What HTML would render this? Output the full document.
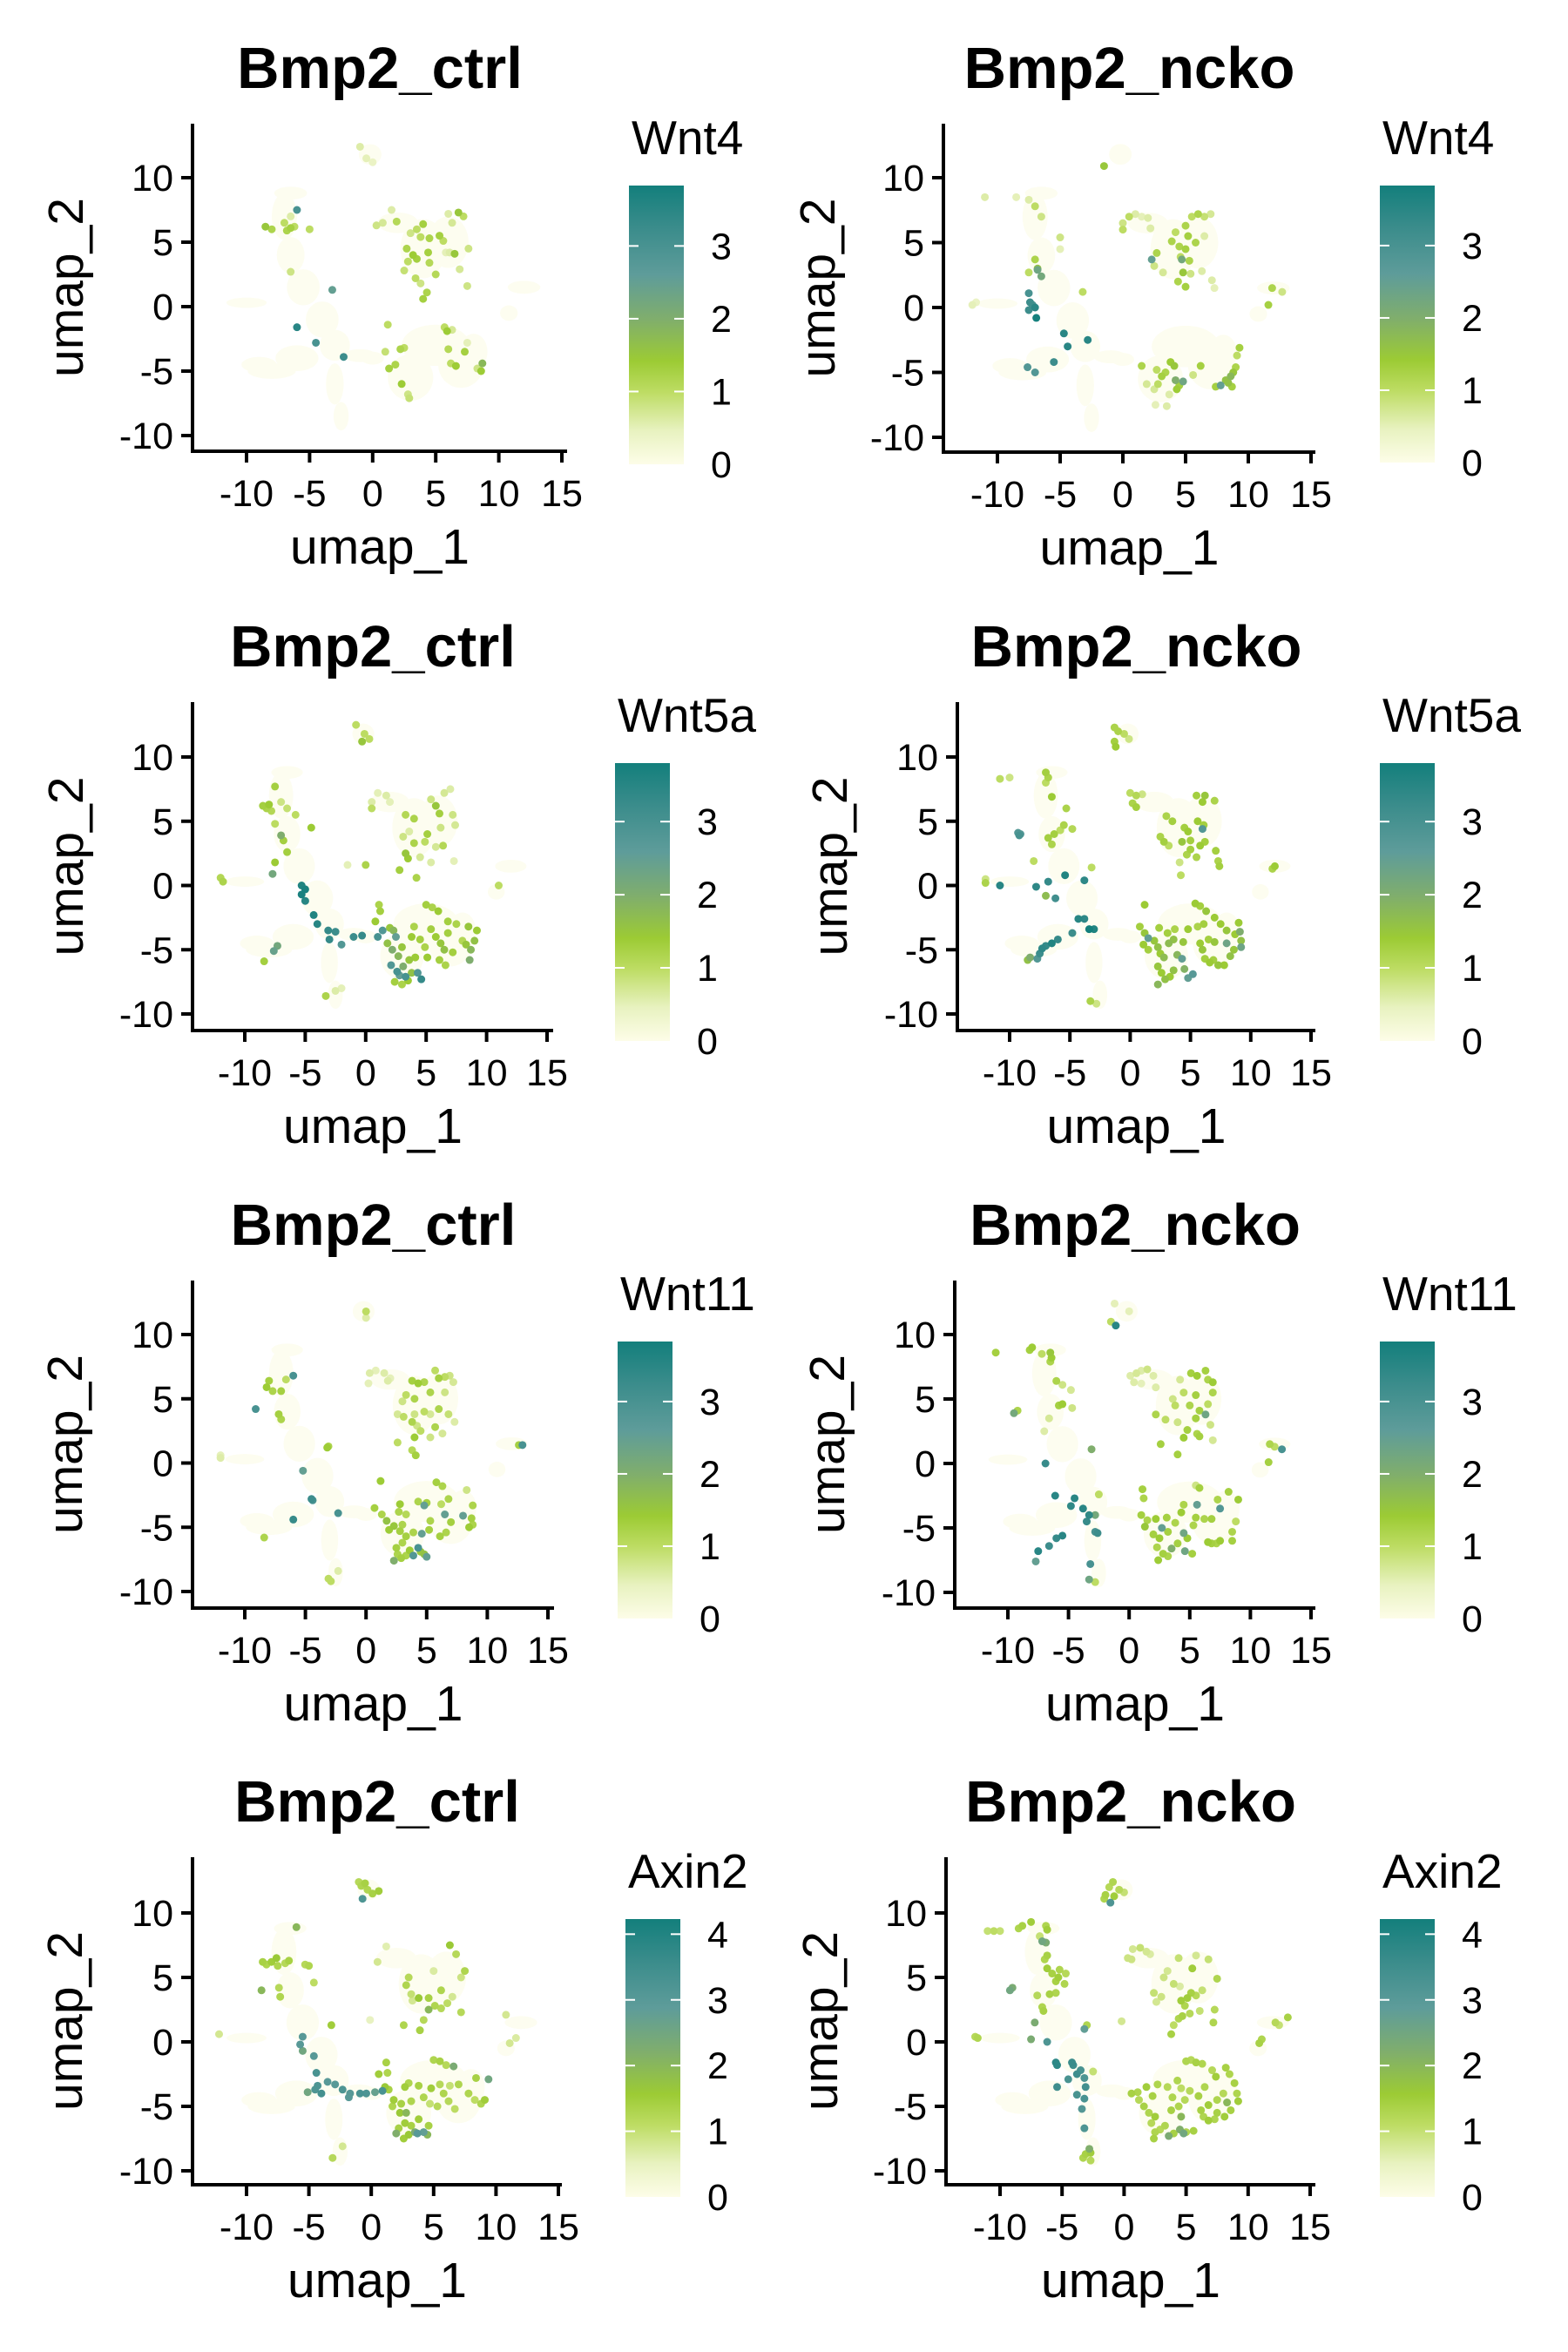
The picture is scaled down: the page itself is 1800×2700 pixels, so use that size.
<!DOCTYPE html>
<html><head><meta charset="utf-8"><title>UMAP feature plots</title>
<style>
html,body{margin:0;padding:0;background:#fff;}
svg{display:block;font-family:"Liberation Sans",Arial,sans-serif;}
</style></head>
<body>
<svg id="fig" xmlns="http://www.w3.org/2000/svg" width="1800" height="2700" viewBox="0 0 1800 2700">
<rect x="0" y="0" width="1800" height="2700" fill="#ffffff"/>
</svg>
<script>
// ---------- data ----------
const xTicks = [-10, -5, 0, 5, 10, 15];
const yTicks = [-10, -5, 0, 5, 10];
const wntLegendTicks = [0, 1, 2, 3];
const axinLegendTicks = [0, 1, 2, 3, 4];
const panelTitles = ["Bmp2_ctrl","Bmp2_ncko","Bmp2_ctrl","Bmp2_ncko","Bmp2_ctrl","Bmp2_ncko","Bmp2_ctrl","Bmp2_ncko"];
const geneNames = ["Wnt4","Wnt4","Wnt5a","Wnt5a","Wnt11","Wnt11","Axin2","Axin2"];
const geneMax = [3.83,3.83,3.8,3.8,3.83,3.83,4.23,4.23];

// background (non-expressing) cell regions: centre x, centre y, radius x, radius y (umap units)
const bgCx = [-7,-6.5,-5.5,-4,-3,-8,-10,-6,-3,-2.5,-1,0,12,10.8,2,4,6,5,3,7,8,-0.2,-6.5,-9];
const bgCy = [7,4,1.5,-1,-3,-5,0.3,-4,-6,-8.5,-3.8,-4,1.5,-0.5,6.5,4.5,5,-3,-5.5,-4.5,-3.5,11.8,8.8,-4.5];
const bgRx = [1.0,1.1,1.3,1.3,1.2,1.9,1.6,1.7,0.7,0.6,1.3,0.9,1.3,0.7,1.6,1.8,1.6,2.7,1.8,1.8,1.1,0.9,1.3,1.4];
const bgRy = [1.8,1.4,1.4,1.4,1.2,0.6,0.4,1.0,1.6,1.1,0.5,0.5,0.5,0.6,0.8,2.3,2.0,1.6,1.8,1.8,1.4,0.8,0.5,0.6];

const wnt4Ctrl = [[-8.5,6.2,1.5],[-8,6,1.2],[-7,6.5,1],[-6.8,5.9,1.2],[-6.5,6.1,1.3],[-6.2,6.2,1],[-5,6,1],[-6.5,7,0.6],[-6,7.5,3],[-6.5,2.7,0.8],[-3.2,1.3,2.5],[-6,-1.6,3.5],[-4.5,-2.8,3],[-2.3,-3.9,3.2],[-1,12.4,0.6],[-0.5,11.5,0.5],[0,11.2,0.4],
[0.3,6.3,0.8],[0.8,6.5,0.7],[1.5,7.5,0.6],[1.9,6.6,1.1],[3.5,6,1],[4,6.4,1.3],[3.8,5.4,1],[4.5,5.3,1.2],[5.3,5.5,1.3],[5.6,5.1,1],[6.3,6.5,0.7],[6.8,7.3,1.5],[7.2,7,1],[6,7.2,0.6],[2.7,4.5,1.2],[3.2,4,1.4],[2.8,3.5,1],[3.5,3.7,1.3],[4.4,4.2,1.3],[6.5,4.1,1.5],[6.1,4.2,0.6],[7.6,4.5,0.8],[4.5,3.4,1.1],[2.5,2.8,0.9],[3.4,2.2,1],[3.8,1.8,0.8],[5,2.5,1.1],[6.9,2.9,0.7],[7.5,1.6,0.8],[4.3,1.1,1.2],[4,0.6,1.3],[5.8,4.2,0.5],[3,5.7,0.8],
[1.2,-1.4,1],[1,-3.5,0.9],[2.2,-3.3,1.2],[2.5,-3.2,1],[1.3,-4.8,1.3],[1.8,-4.5,1.2],[2.3,-6,1.4],[2.8,-6.8,0.8],[2.9,-7.1,0.9],[5.7,-1.6,1],[5.9,-1.9,1.4],[6.3,-1.8,0.7],[6,-3.3,1.1],[6.2,-4.4,1],[6.6,-4.6,1.4],[7.3,-3.5,1.3],[7.5,-2.8,0.5],[8.7,-4.4,1.8],[8.6,-5,1.4],[8.3,-4.8,0.8]];

const wnt4Ncko = [[-11,8.5,0.6],[-8.5,8.5,0.5],[-7.5,8.3,0.6],[-7,7.8,1],[-6.5,7,0.8],[-5,5.4,0.8],[-5,4.5,0.5],[-7.5,2.7,1],[-7,3.7,1.2],[-6.8,3,1.6],[-6.5,2.4,2.2],[-6.8,2.9,2.3],[-7.5,1.1,3],[-7.4,0.4,3.2],[-7.2,0.2,3],[-7,0,3.5],[-7.5,-0.2,3.2],[-6.9,-0.8,3.8],[-4.7,-2,3.5],[-2.8,-2.5,3.5],[-4.4,-3,3.5],[-5.5,-4.2,3.2],[-7.6,-4.6,2.8],[-7,-5,2.8],[-3.2,1.2,1],[-12,0.2,0.5],[-11.7,0.4,0.4],[-1.5,10.9,1.5],
[0,6.5,0.8],[0.5,7,1],[1,7.2,0.6],[1.5,7,0.5],[2,6.9,0.6],[0,6,1],[2.2,6.1,0.6],[5.5,7,1],[6,7.2,1.2],[6.5,7,0.9],[7,7.2,0.7],[5,6.3,1.2],[4.2,5.8,1],[3.9,5.1,1.2],[5.2,5.5,1.3],[5.8,5,1.2],[6.5,5.5,0.6],[4.5,4.7,1.2],[5,4.5,1.3],[4.6,3.9,1],[5.3,3.6,1.2],[2.3,3.7,2.5],[2.7,4.2,1.2],[4.7,3.7,2.2],[2.5,3.2,0.8],[3.2,2.7,0.7],[4.8,2.7,1.5],[5.4,2.6,0.8],[6.3,2.8,0.6],[4.4,2,1.2],[5,1.6,1.3],[7.1,2.1,0.6],[7.3,1.5,0.5],[11.9,1.5,1.2],[12.7,1.2,0.8],[11.6,0.2,1.3],
[1.5,-4.5,1.2],[2.7,-4.8,1],[3.8,-4.2,1.4],[4.1,-4.5,1.5],[3.4,-5,1.2],[3.1,-5.3,1.3],[4.2,-5.6,2],[4.8,-5.7,2.3],[4.5,-6,1.3],[4.3,-6.3,1.4],[3.7,-6.7,0.6],[6.2,-4.5,1.3],[7.4,-6.1,1.3],[7.8,-6,2.5],[8.2,-5.6,1.6],[8.6,-5.3,1.8],[8.8,-5,1.5],[9,-4.6,1.2],[9.3,-3.1,1.3],[9.1,-3.7,1],[8.7,-6.1,1.3],[8.4,-5.8,1.6],[2.6,-7.5,0.5],[3.5,-7.6,0.6],[2.8,-5.9,1],[1.9,-5.9,0.7],[5.6,-5.2,0.8],[2.5,-6.3,0.7]];

const wnt5aCtrl = [[-8.5,6.2,1.3],[-8.2,6,1.2],[-8,6.3,1.4],[-7.8,5.8,1.1],[-7.5,7.7,1.3],[-7,6.5,0.8],[-6.5,6,0.9],[-5.8,5.5,1],[-4.5,4.5,1.4],[-7.5,4.8,1],[-7,3.9,2],[-6.8,3.5,1.3],[-6.5,2.6,1.3],[-7.5,1.8,1.4],[-7.7,0.9,2.2],[-12,0.6,1.1],[-11.8,0.3,1.2],[-5.3,0,3.6],[-5,-0.3,3.7],[-5.3,-0.7,3.7],[-5,-1.2,3.5],[-4.3,-2.3,3.6],[-4,-3,3.5],[-3.1,-3.5,3.3],[-2.5,-3.6,3.2],[-3,-4.2,3.3],[-2,-4.6,2.8],[-1,-4,3.2],[-0.3,-3.9,3.3],[-7.3,-4.7,2.2],[-7.6,-5.1,2.4],[-8.4,-5.9,1.3],[-3.3,-8.6,1.2],[-2.5,-8.2,0.6],[-2,-8,0.5],[-0.8,12.5,1],[-0.3,11.2,1.5],[0.3,11.4,1],[-0.1,11.8,1],[-1.5,1.6,0.5],[0,1.6,1.2],[11,0,1],
[0.5,6.5,0.6],[1,7.2,0.5],[1.7,7,0.6],[2,6.5,0.5],[0.5,6,1],[3.3,5.5,1.1],[4,5.2,1.2],[5.4,6.7,0.8],[5.8,6.2,1.5],[6.1,5.6,1.3],[6.5,7.2,0.7],[7,7.5,0.6],[7.2,5.5,0.8],[3.1,3.8,0.8],[3.6,4.2,0.6],[4,3.3,1.2],[4.9,3.4,1],[5.1,4,1.3],[6.2,4.5,0.8],[6.4,3.1,1.1],[5.8,3,0.7],[3.3,2.5,1.5],[3.5,2.1,1.4],[2.8,1.2,1.3],[4.2,0.6,1.2],[4.5,2.2,0.7],[5.4,1.8,0.6],[7.4,4.7,0.7],[7.3,1.9,0.5],
[1.1,-1.5,1.2],[1.2,-2,1.3],[0.8,-2.8,1.4],[1.4,-3.5,2.8],[1,-4,3],[2,-3.3,1.5],[2.3,-3.5,1.8],[2.5,-4,2.5],[1.8,-4.5,1.6],[2.2,-5,2],[2.7,-5.5,1.8],[3,-4.8,1.5],[2.1,-6.2,2.8],[2.6,-6.7,3],[2.8,-7,2.5],[3.3,-7.1,3],[3.8,-6.8,1.6],[4.3,-6.8,2.8],[4.6,-7.3,3.3],[3.1,-6.3,2],[3.6,-5.8,1.5],[4.1,-5.6,1.4],[2.4,-7.5,1.3],[3,-7.7,1.2],[3.5,-7.4,1.4],[5,-1.5,1.3],[5.5,-1.7,1.2],[6,-2,1.4],[6.8,-2.8,1.3],[7.5,-3,1.2],[8.5,-3.2,1.5],[9.2,-3.5,1.4],[9,-4.3,1.6],[8.3,-4.6,1.5],[8.7,-5,1.8],[5.4,-3.4,1.3],[5.8,-4,1.4],[6.2,-4.5,1.5],[6.5,-5,1.6],[6.1,-5.8,1.3],[6.6,-6.2,1.2],[5.1,-5.6,1.4],[4.9,-4.8,1.2],[4.5,-4.2,1.3],[3.8,-4,1.4],[4,-3.2,1.2],[6.8,-3.7,1.3],[8,-4.3,1.1],[7.2,-5.2,1.3],[8.6,-5.8,2]];

const wnt5aNcko = [[-10.8,8.3,1],[-10,8.4,0.8],[-7,8.8,1.3],[-6.8,8.4,1.2],[-7,8,1],[-6.5,6.9,1.4],[-5.3,6,1.2],[-5.5,4.7,1.2],[-5.8,4.3,1],[-4.8,4.4,1.1],[-6.3,4,1.3],[-6.8,3.7,1.3],[-6.5,3.2,1.2],[-8,1.9,1],[-3.2,1.4,1],[-12,0.5,0.8],[-12,0.2,1.2],[-9.3,4.1,2.8],[-9.1,4,2.8],[-9.2,3.9,3],[-10.8,0,3.5],[-7.8,-0.1,3.4],[-6.8,0.3,3.3],[-5.4,0.8,3.6],[-3.8,0.4,3.4],[-6.2,-1,3.1],[-7,-0.8,1.7],[-4.3,-2.6,3.5],[-3.8,-2.6,3.4],[-3.4,-3.4,3.8],[-3,-3.4,3.6],[-4.8,-3.7,3.2],[-6,-4.2,3.3],[-6.5,-4.5,3.6],[-7,-4.7,3.3],[-7.3,-4.9,3.4],[-7.5,-5.3,3.2],[-7.7,-5.7,2.8],[-8.3,-5.6,2],[-8.5,-5.8,1.6],[-3.3,-9,1.2],[-2.8,-9.2,0.8],[-1.3,12.3,1.2],[-1,12,1.2],[-1.3,11.2,1.3],[-1.2,10.8,1.4],[-0.5,11.8,1],[-0.1,11.4,0.8],
[0,7.2,1],[0.5,7,1.1],[1,7.1,0.8],[0.2,6.4,1.2],[0.5,6.1,1.3],[3,5.4,1.2],[3.5,5,1.3],[5.5,7,1.3],[6,6.5,1.4],[6.2,7,1.5],[7,6.6,1.2],[6.1,4.7,1.3],[5.6,5,1.4],[4.5,4.5,1.3],[4.8,4.2,1.4],[6,4.4,2.8],[2.5,3.8,1.2],[2.8,3.4,1.3],[3.2,3.1,1],[4.3,3.4,1.5],[5,3.5,1.3],[5.8,3.1,1.4],[6.2,3.4,1.3],[4.7,2.4,1.2],[5,2.8,1.3],[5.5,2.2,1.2],[4.1,1.8,0.8],[7.1,2.7,1.3],[7.3,1.9,1.2],[7.4,1.5,1.3],[4.2,0.8,1],[12,1.5,1.4],[11.8,1.3,1.2],
[1.2,-1.5,1.4],[0.8,-3.2,1.3],[1.2,-3.7,1.5],[1.5,-4.1,2.5],[1.1,-4.6,1.4],[1.5,-5,1.3],[2,-4.3,1.5],[2.3,-4.8,1.6],[2.5,-5.3,1.4],[2.8,-5.6,1.7],[2.3,-6.3,1.5],[2.6,-6.8,1.4],[2.9,-7.3,1.6],[2.3,-7.7,1.8],[3.3,-7.1,1.4],[3.6,-6.6,1.6],[3.9,-5.4,1.8],[4.3,-5.7,2.5],[4.5,-6.5,1.9],[4.8,-7.2,2.5],[5.2,-6.9,2.7],[4.4,-4.4,1.5],[3.6,-4.2,1.6],[3.1,-3.7,1.3],[3.2,-4.5,1.7],[5.4,-1.4,1.4],[5.8,-1.6,1.3],[6.3,-2,1.5],[7,-2.5,1.4],[7.5,-3,1.4],[8,-3.5,1.5],[8.7,-3.8,1.4],[9,-2.9,1.4],[9.1,-3.6,2],[9.2,-4.3,1.6],[9.2,-4.8,2.3],[8.6,-5,1.5],[8.3,-5.5,1.6],[8,-4.5,2.3],[7.8,-6.2,1.4],[7.3,-6.2,1.5],[6.9,-5.8,1.3],[6.6,-6,1.4],[6.2,-5.7,1.3],[6,-5,1.5],[5.8,-4.5,1.4],[6.5,-4.2,1.3],[7,-4.4,1.5],[5.6,-3.2,1.2],[6.1,-3,1.3],[4.8,-3.4,1.4],[3.7,-3.4,1.2],[2.4,-3.3,1.3]];

const wnt11Ctrl = [[-8,6.4,1.3],[-8.2,5.9,1.4],[-7.7,5.6,1.2],[-7,5.6,1.3],[-6.6,6.5,1],[-6,6.8,3],[-9.1,4.2,3],[-7.2,3.8,1.3],[-7,3.4,1.2],[-12,0.6,0.5],[-12,0.4,0.6],[-3.2,1.2,1.4],[-3.1,1.3,1.2],[-5.2,-0.6,2.5],[-4.5,-2.8,3.2],[-4.4,-2.9,3],[-6,-4.4,3.3],[-2.3,-3.9,3],[-8.4,-5.8,1.2],[-2.3,-8.4,0.6],[-3.1,-9,1],[-2.9,-9.2,1],[0,11.8,1],[0,11.3,0.6],
[0.3,7,0.6],[0.8,7.2,0.5],[1.5,7,0.6],[2,6.6,0.5],[1.8,6.4,0.6],[0.2,6.2,0.5],[3.8,6.4,1.3],[4.3,6.2,1.4],[4.8,6.3,1.2],[5.7,7.2,1],[6,6.6,1.3],[6.5,6.7,1],[6.9,6.8,0.8],[7.2,6.3,0.7],[6.5,5.5,0.8],[5.3,5.5,1.2],[4,5,1.2],[3,4.8,0.8],[3.3,5.3,1],[2.6,3.8,0.7],[3.1,3.6,1],[4,3.8,0.8],[4.8,4,1],[5.3,3.8,0.7],[6,4.2,1.2],[6.8,3.8,0.9],[7.3,3.2,0.6],[3.8,3.2,1.2],[4.2,2.9,0.8],[4.5,2.5,1],[5.7,2.8,1.2],[6.3,2.3,0.7],[5.3,2,0.8],[4,2,1.4],[2.6,1.6,1],[3.8,1,1.1],[4.1,0.6,1.3],[12.6,1.4,1.3],[12.9,1.4,3],
[1.2,-1.4,1.4],[0.7,-3.5,1.3],[1.3,-4,1.2],[1.7,-4.5,1.6],[1.9,-5.2,1.4],[2.3,-4.9,1.5],[2.8,-5.3,1.3],[3,-4.8,1.2],[2.8,-3.2,1.4],[2.7,-3.8,1.2],[3.3,-4,1.1],[4.3,-3,1.2],[4.8,-3.3,2.5],[5,-3.1,1.3],[6.2,-3.2,1],[6.5,-4,2.5],[5.3,-4.5,1.2],[5.2,-5.2,1.3],[4.6,-5.5,2.5],[3.9,-5.4,1.2],[3.3,-5.7,1.3],[3,-6.2,1.2],[2.5,-6.6,1.3],[2.6,-7.1,1.2],[2.3,-7.6,2],[2.9,-7.4,1.3],[3.3,-7.2,1.2],[3.6,-6.8,1.4],[4.3,-6.6,3],[4.5,-6.9,1.5],[4.8,-7.1,1.6],[5,-7.3,2.5],[3.9,-7.2,2.8],[5.8,-1.5,1.3],[6.3,-1.8,1.2],[6.8,-2.8,1.2],[8.3,-2.1,0.8],[8.8,-3.3,1.2],[8,-4.1,2.5],[8.7,-4.3,1.3],[8.5,-5,1.4],[8.8,-4.8,1.2],[7,-4.6,1.3],[6.6,-5.4,1.2],[6.1,-5.7,1.3]];

const wnt11Ncko = [[-11,8.6,1.3],[-8,9,1.4],[-8.2,8.8,1.3],[-7.2,8.5,1],[-6.5,8.6,1.5],[-6.4,8.2,1.4],[-6.5,7.9,1.2],[-6,6.4,1.2],[-5.5,6.1,0.8],[-4.8,5.7,0.7],[-5.8,4.5,1.3],[-5.5,4.6,1.4],[-4.7,4.3,0.8],[-9.2,4.1,1.2],[-9.5,3.9,2.2],[-6.6,3.5,0.7],[-7,2.5,0.6],[-3.1,1.1,2],[-6.9,0,3.3],[-6.1,-2.5,3.5],[-4.8,-3.3,3.4],[-4.5,-2.7,3.5],[-3.8,-3.5,3.5],[-3.3,-4,3.4],[-3.5,-4.5,3.3],[-2.8,-4,2.2],[-2.5,-2.4,1],[-2.6,-5.4,3.2],[-2.8,-5.3,3],[-5.5,-5.6,3.5],[-6,-5.8,3.3],[-6.6,-6.4,3.2],[-7.5,-6.8,3.5],[-7.7,-7.6,2.5],[-3.2,-7.8,3],[-3.3,-9,2.3],[-2.8,-9.2,1],[-1.5,11,1],[-1.1,10.7,3.5],[-1.2,12.4,0.5],[0,11.8,0.5],
[0.1,6.8,0.6],[0.6,7,0.7],[1,7.2,0.6],[1.5,7.3,0.8],[2,6.8,0.6],[0.4,6.3,0.6],[1,6.2,0.5],[2.2,5.9,0.6],[4.2,6.5,0.7],[5.1,7,1.3],[5.6,6.8,1.4],[6.3,7.2,1.3],[6.5,6.5,1.2],[6.9,6.3,1.4],[6.9,5.5,1.2],[5.5,5.3,1.3],[4.5,5.5,1],[3.6,5,0.8],[3.8,4.5,1],[5,4.5,1.2],[5.8,4.1,1.3],[6.5,4.6,1],[6.3,3.8,2.3],[2.2,3.8,1.2],[3,3.4,1],[4,3.2,0.8],[5.5,3.5,1.3],[6.7,3,0.8],[4.8,2.6,1.3],[5.6,2.3,1.2],[4.5,2,1.4],[5.8,2.1,1.3],[6.9,1.8,0.7],[2.6,1.5,1.3],[4,0.7,1.3],[11.6,1.5,1.2],[12,1.3,1],[12.6,1.1,3],[11.5,0.1,1.3],
[1.1,-2,1.3],[1.2,-2.7,1.2],[1,-4,1.3],[1.5,-4.4,1.2],[2.2,-4.3,1.4],[1.3,-4.9,1.5],[2,-5.5,1.3],[2.5,-5.8,1.4],[2.7,-5,2.5],[3.2,-5.3,1.3],[2.3,-6.5,1.2],[2.8,-7,1.3],[2.4,-7.5,1.4],[3.2,-7.2,1.2],[3.5,-6.6,2],[4,-6.2,1.3],[4.5,-5.4,2.3],[4.8,-5.8,1.4],[4.6,-6.8,2.3],[5.2,-7,1.3],[3.8,-4.6,1.2],[3.1,-4.2,1.3],[4.3,-3.8,1.4],[4.5,-3.2,1.2],[5.5,-1.7,0.8],[5.8,-1.9,1.3],[5.6,-3.2,2.5],[6.2,-4.3,1.2],[6.8,-4.3,1.3],[7.3,-2.8,1.2],[7.5,-3.5,2.8],[8.2,-2.2,1.3],[9,-2.8,1.4],[8.8,-4.5,1],[8.5,-5.3,1.2],[8.5,-6,1.3],[7.5,-6,1.4],[7.2,-6.2,1.2],[6.8,-6.2,1.3],[6.5,-6.1,1.4],[5.3,-4.8,1.2],[5.5,-4.2,1.3]];

const axin2Ctrl = [[-1,12.4,1.2],[-0.8,12.1,1.3],[-0.5,12.3,1.4],[-0.3,11.8,1.3],[0.1,11.5,1.4],[0.6,11.7,1.5],[-0.7,11.1,3.2],[-6,8.9,2],[-8.7,6.2,1.4],[-8.4,6,1.3],[-8,6.2,1.5],[-7.6,6.5,1.6],[-7.5,5.9,1.3],[-6.9,6.1,1.2],[-6.6,6.3,1.4],[-5.3,6,1.2],[-5,5.9,1.3],[-4.6,4.6,1.1],[-8.8,4,2],[-7.4,4.2,1.2],[-7.3,3.5,1.3],[-3.2,1.3,1.5],[-12.2,0.6,0.8],[-5.5,0.4,3],[-5.7,-0.2,3],[-5.5,-0.7,2.5],[-4.6,-1.1,3],[-4.4,-2.4,3.3],[-4.3,-3.4,3.2],[-4.5,-3.7,3.2],[-5.1,-3.9,2.5],[-4,-4,3.4],[-3.5,-3.1,3],[-2.9,-3.3,3],[-2.3,-3.7,3.2],[-1.8,-4.3,3],[-1.7,-4,3],[-0.9,-4,3.3],[-0.4,-4,3.2],[0.3,-3.9,2.7],[0.9,-3.8,3.3],[-3.1,-9,1.2],[-2.3,-8.1,0.8],[-0.1,1.7,0.5],[10.8,2.1,0.8],[11.1,-0.1,0.8],[11.6,0.3,0.7],
[1.2,7.4,0.6],[0.5,6.2,0.8],[6.3,7.5,1.6],[6.8,6.8,1.2],[7.5,5.5,1.3],[7.2,5,0.9],[5,5.5,0.7],[3,5,1.2],[2.8,4.4,1.3],[3.2,3.7,1],[3.3,3.2,0.8],[3.8,3.4,1.6],[4.6,3.4,1.4],[4.6,2.5,2],[5.1,2.8,1.3],[5.6,2.6,1.2],[6.1,3,1.1],[7.2,2.3,1.2],[4.2,1.7,1.2],[2.6,1.3,1.3],[3.9,0.9,1.4],[5.6,4,1.3],[6.5,3.5,0.8],
[1.2,-1.6,1.4],[1.3,-2.4,1.3],[0.6,-2.5,1.5],[1.1,-3.5,1.6],[1.4,-3.7,1.4],[1.8,-4.5,1.5],[2.4,-4.8,1.4],[1.7,-5,1.3],[2.3,-5.5,1.6],[2.8,-5.5,2],[2.7,-6.3,1.5],[2.2,-6.7,1.4],[2,-7.1,2.2],[2.6,-7.5,1.5],[3,-7.2,1.6],[3.5,-7,2.3],[3.7,-7.1,3],[4.2,-7,2.8],[4.5,-7.2,2],[3.2,-6.5,1.4],[3.8,-6,1.5],[4.6,-6.5,1.4],[3.2,-4.6,1.3],[2.7,-3.5,1.5],[3,-3.2,1.3],[3.8,-3.4,1.4],[4.8,-3.6,1.5],[5.5,-3.3,1.2],[5.8,-4,1.3],[5.3,-5,1.2],[4.7,-4.8,1],[4.2,-4.3,1.3],[5,-1.4,1.3],[5.5,-1.5,1.4],[6,-1.8,1.2],[6.6,-1.9,2.3],[7.8,-4,1.3],[8.4,-2.8,1.4],[9.4,-2.9,2.5],[9.1,-4.5,1.5],[8.8,-4.8,1.3],[8.3,-4.5,1.1],[7,-3.3,1.3],[6.3,-3.4,1],[6.2,-4.6,1.2],[6.7,-5.2,1.1]];

const axin2Ncko = [[-0.9,12.4,1.3],[-1.2,12,1.2],[-1.5,11.4,1.4],[-1.6,11.1,1.3],[-0.8,11.3,1.5],[-0.4,11.8,1.2],[0,11.6,1],[-1.1,10.8,3.2],[-11,8.6,1],[-10.5,8.6,1.1],[-10,8.6,1],[-8.5,8.8,1.3],[-8.2,9,1.4],[-7.5,9.3,1.5],[-6.3,9,1.3],[-6.2,8.7,1.5],[-6.8,8.2,1],[-6.6,7.8,2.5],[-6.3,7.7,2.3],[-6.2,6.7,1.4],[-6.4,6.4,1.3],[-6.2,5.7,1.5],[-5.8,5.3,1.4],[-5.2,5.6,1.3],[-5.3,5,1.5],[-5.5,4.7,1.4],[-4.8,4.5,1.3],[-4.7,5.3,1.2],[-5.5,3.8,1.3],[-6,3.7,1.4],[-7,3.6,1.2],[-6.6,2.7,1.3],[-6.5,2.4,1.4],[-9.2,4,2.5],[-9,4.2,2.3],[-12,0.4,1.2],[-11.8,0.3,1.3],[-7.2,1.5,2.3],[-7.5,0.2,2.3],[-6.2,0,3.2],[-3.2,1,2.8],[-3,1.3,1.3],[-5.5,-1.6,3.8],[-5.4,-1.8,3.8],[-4.2,-1.6,3.6],[-4.1,-1.8,3.5],[-3.5,-2.2,3.3],[-2.5,-2.3,1],[-4.5,-2.9,3.3],[-3.8,-2.5,3.5],[-3.2,-2.8,3.2],[-3.1,-3.5,3.4],[-3.8,-4.1,3.3],[-5.4,-3.5,3.5],[-3.2,-4.4,3.3],[-3.4,-5.2,3.1],[-3.2,-6.7,3.2],[-2.8,-8.3,2.2],[-3.1,-8.7,1.4],[-3.3,-9,1.3],[-2.7,-9.2,1.2],[-2.7,-8.6,1.5],[-0.2,1.6,0.8],[10.9,-0.1,1.4],[11.1,0.2,1.3],[12.2,1.5,1.2],[12.5,1.3,1],[13.2,1.9,1.4],
[0.3,6.5,0.9],[0.7,7.2,0.8],[1.3,7.3,1],[1.8,7,0.8],[2.1,6.8,0.7],[0.6,6.4,0.9],[4.4,6.5,1],[5.8,6.7,0.8],[6.8,6.4,1],[7.5,4.9,1.3],[5.5,5.7,1.5],[3.5,5.5,0.8],[3.2,5,0.9],[4,4.5,1],[4.5,4.3,0.7],[5.4,3.8,1.4],[5.1,3.4,1.5],[5.8,3.6,1.2],[6.3,4,1],[2.4,3.8,1],[3,3.5,0.9],[2.6,3.1,0.8],[4.9,2.8,1.3],[4.6,3.2,1.5],[5.3,2.2,1.2],[4.7,2,1.4],[6.1,2.4,1],[7.3,2.5,1.2],[7.2,1.5,1.3],[4,1.3,1.1],[3.8,0.6,1.4],[4.4,1.8,1.3],
[5,-1.5,1.3],[5.4,-1.4,1.2],[5.8,-1.6,1.4],[6.3,-1.7,1.3],[7.1,-2.2,1.2],[7.4,-2.7,1.5],[8.2,-2,1.4],[8.5,-2.5,1.3],[8.9,-3.2,1.4],[9.1,-4,1.3],[9.2,-4.6,1.5],[8.6,-5.3,1.4],[8.1,-5.8,1.5],[7.5,-5.5,1.4],[7.3,-6,1.3],[6.8,-6.1,1.5],[6.4,-5.8,1.3],[6.2,-5.3,1.4],[6.8,-4.9,1.5],[7.5,-4.5,1.3],[8,-4,1.2],[8.3,-4.7,2],[6,-4.2,1.4],[6.5,-3.5,1.3],[5.3,-3.8,1.2],[4.6,-3.6,1.1],[4.3,-3,1.3],[3.5,-3.5,1.2],[2.7,-3.3,1.3],[2.3,-4.2,1.4],[1.8,-3.5,1.5],[1.1,-3.9,1.3],[0.6,-4,1.4],[1.2,-4.5,1.2],[1.6,-5,1.4],[2,-5.5,1.3],[2.5,-5.8,1.5],[2.2,-6.3,1.2],[2.5,-7,1.3],[2.4,-7.5,1.4],[2.9,-6.8,1.2],[3.3,-6.5,1.3],[3.6,-7.3,2.3],[4,-7.1,1.4],[4.5,-6.8,2.2],[4.8,-7.1,2.5],[5,-7,1.3],[5.6,-6.9,1.4],[4.6,-5.8,2],[4.4,-5,1.3],[3.8,-5.3,1.4],[4.9,-4.5,1.2],[3.9,-4.3,1.3]];

const panelData = [wnt4Ctrl, wnt4Ncko, wnt5aCtrl, wnt5aNcko, wnt11Ctrl, wnt11Ncko, axin2Ctrl, axin2Ncko];

// ---------- layout (pixel geometry, not data) ----------
const layout = [
 {ax:221, xm10:283, x15:645, xend:651, y10:204, ym10:500, top:142, xa:518, lx:722, lt:213, lb:533, u2:95},
 {ax:1083, xm10:1145, x15:1505, xend:1510, y10:204, ym10:502, top:142, xa:519, lx:1584, lt:213, lb:531, u2:958},
 {ax:221, xm10:281, x15:628, xend:635, y10:869, ym10:1164, top:806, xa:1183, lx:706, lt:876, lb:1195, u2:95},
 {ax:1099, xm10:1159, x15:1505, xend:1510, y10:869, ym10:1164, top:806, xa:1183, lx:1584, lt:876, lb:1195, u2:972},
 {ax:221, xm10:281, x15:629, xend:636, y10:1532, ym10:1827, top:1470, xa:1846, lx:709, lt:1540, lb:1858, u2:94},
 {ax:1096, xm10:1157, x15:1505, xend:1510, y10:1532, ym10:1828, top:1470, xa:1846, lx:1584, lt:1540, lb:1858, u2:969},
 {ax:221, xm10:283, x15:641, xend:645, y10:2196, ym10:2492, top:2132, xa:2508, lx:718, lt:2203, lb:2522, u2:94},
 {ax:1086, xm10:1148, x15:1504, xend:1510, y10:2196, ym10:2492, top:2132, xa:2508, lx:1584, lt:2203, lb:2522, u2:961}
];
const BAR_W = 63;

const NS = "http://www.w3.org/2000/svg";
const svg = document.getElementById("fig");
function mk(tag, attrs, parent) {
  const e = document.createElementNS(NS, tag);
  for (const k in attrs) e.setAttribute(k, attrs[k]);
  (parent || svg).appendChild(e);
  return e;
}

// colour scale (fraction of max)
const stopF = [0, 0.12, 0.26, 0.37, 0.52, 0.68, 0.85, 1];
const stopC = ["#fdfde8","#e8f2c0","#bddc63","#9ccb34","#80ae6c","#5e9c9a","#3a8c8b","#137f7c"];
function hex(c){return [parseInt(c.slice(1,3),16),parseInt(c.slice(3,5),16),parseInt(c.slice(5,7),16)];}
function colorFor(f){
  f = Math.max(0, Math.min(1, f));
  for (let i = 1; i < stopF.length; i++) {
    if (f <= stopF[i]) {
      const t = (f - stopF[i-1]) / (stopF[i] - stopF[i-1]);
      const a = hex(stopC[i-1]), b = hex(stopC[i]);
      return "rgb(" + a.map((v,j)=>Math.round(v + (b[j]-v)*t)).join(",") + ")";
    }
  }
  return stopC[stopC.length-1];
}

const defs = mk("defs", {});
const grad = mk("linearGradient", {id:"cbar", x1:"0", y1:"1", x2:"0", y2:"0"}, defs);
stopF.forEach((f,i)=>{ mk("stop", {offset:f, "stop-color":stopC[i]}, grad); });

layout.forEach((L, p) => {
  const g = mk("g", {});
  
  
  const sx = v => L.xm10 + (v + 10) * (L.x15 - L.xm10) / 25;
  const sy = v => L.ym10 + (v + 10) * (L.y10 - L.ym10) / 20;
  const midX = (L.ax + L.xend) / 2;

  const t = mk("text", {x:midX, y:L.top - 41, "text-anchor":"middle", "font-size":67, "font-weight":"bold", fill:"#000"}, g);
  t.textContent = panelTitles[p];
  
  

  const bg = mk("g", {}, g);
  
  
  bgCx.forEach((cx, i) => {
    const e = mk("ellipse", {cx:sx(cx), cy:sy(bgCy[i]), rx:bgRx[i]*(L.x15-L.xm10)/25, ry:bgRy[i]*(L.ym10-L.y10)/20, fill:"#fdfdf0"}, bg);
    
    
  });

  const pts = panelData[p].slice().sort((a,b)=>a[2]-b[2]);
  const pg = mk("g", {}, g);
  
  
  pts.forEach(d => {
    const c = mk("circle", {cx:sx(d[0]), cy:sy(d[1]), r:4.5, fill:colorFor(d[2]/geneMax[p])}, pg);
    
    
  });

  const ya = mk("line", {x1:L.ax, y1:L.top, x2:L.ax, y2:L.xa+2, stroke:"#000", "stroke-width":4}, g);
  
  
  const xa = mk("line", {x1:L.ax-2, y1:L.xa, x2:L.xend, y2:L.xa, stroke:"#000", "stroke-width":4}, g);
  
  

  xTicks.forEach(v => {
    const x = sx(v);
    const tk = mk("line", {x1:x, y1:L.xa, x2:x, y2:L.xa+13, stroke:"#000", "stroke-width":4}, g);
    
    
    const tl = mk("text", {x:x, y:L.xa+63, "text-anchor":"middle", "font-size":43, fill:"#000"}, g);
    tl.textContent = v;
    
    
  });
  yTicks.forEach(v => {
    const y = sy(v);
    const tk = mk("line", {x1:L.ax-13, y1:y, x2:L.ax, y2:y, stroke:"#000", "stroke-width":4}, g);
    
    
    const tl = mk("text", {x:L.ax-22, y:y+15, "text-anchor":"end", "font-size":43, fill:"#000"}, g);
    tl.textContent = v;
    
    
  });

  const xt = mk("text", {x:midX, y:L.xa+129, "text-anchor":"middle", "font-size":57, fill:"#000"}, g);
  xt.textContent = "umap_1";
  
  
  const cyMid = (L.top + L.xa) / 2;
  const ytt = mk("text", {x:L.u2, y:cyMid, "text-anchor":"middle", "font-size":57, fill:"#000", transform:"rotate(-90 " + L.u2 + " " + cyMid + ")"}, g);
  ytt.textContent = "umap_2";
  
  

  const lg = mk("g", {}, g);
  
  
  const lt = mk("text", {x:L.lx+3, y:L.lt-36, "font-size":55, fill:"#000"}, lg);
  lt.textContent = geneNames[p];
  
  
  const bar = mk("rect", {x:L.lx, y:L.lt, width:BAR_W, height:L.lb-L.lt, fill:"url(#cbar)"}, lg);
  
  
  const ticks = geneMax[p] > 4 ? axinLegendTicks : wntLegendTicks;
  ticks.forEach(v => {
    const y = L.lb - v / geneMax[p] * (L.lb - L.lt);
    if (v > 0) {
      const a = mk("line", {x1:L.lx, y1:y, x2:L.lx+11, y2:y, stroke:"#fff", "stroke-width":2}, lg);
      
      
      const b = mk("line", {x1:L.lx+BAR_W-11, y1:y, x2:L.lx+BAR_W, y2:y, stroke:"#fff", "stroke-width":2}, lg);
      
      
    }
    const tl = mk("text", {x:L.lx+BAR_W+31, y:y+15, "font-size":43, fill:"#000"}, lg);
    tl.textContent = v;
    
    
  });
});
</script>
</body></html>
